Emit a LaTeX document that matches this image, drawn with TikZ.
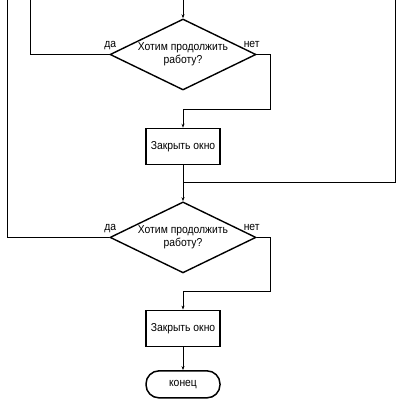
\documentclass[tikz,border=0pt]{standalone}
\usepackage{fontspec}
\setmainfont[FakeStretch=0.9]{Liberation Sans}
\usepackage{tikz}
\usetikzlibrary{arrows.meta,positioning,calc,shapes.geometric}
\tikzset{
  flowline/.style={draw=black, line width=0.8pt},
  flowarrow/.style={flowline, -{Stealth[length=4pt,width=3pt]}},
  decision/.style={diamond, draw=black, line width=1.4pt, aspect=2.05,
    minimum width=146pt, minimum height=71pt, inner sep=0pt, align=center,
    font=\fontsize{11.5}{13}\selectfont},
  process/.style={rectangle, draw=black, line width=1.5pt, minimum width=74pt,
    minimum height=36pt, inner sep=2pt, font=\fontsize{11.5}{13}\selectfont},
  terminal/.style={rectangle, rounded corners=13pt, draw=black, line width=1.5pt,
    minimum width=74pt, minimum height=27pt, inner sep=2pt, font=\fontsize{11.5}{13}\selectfont},
  branchnote/.style={font=\fontsize{11.5}{13}\selectfont, inner sep=0pt, anchor=base}
}
\begin{document}
\begin{tikzpicture}[x=1pt, y=-1pt]
  \useasboundingbox (0,0) rectangle (412,404);
  \node[decision] (ask1) at (183,54.5) {Хотим продолжить\\работу?};
  \node[process, below=37pt of ask1] (close1) {Закрыть окно};
  \node[decision, below=36pt of close1] (ask2) {Хотим продолжить\\работу?};
  \node[process, below=36pt of ask2] (close2) {Закрыть окно};
  \node[terminal, below=23pt of close2] (stop) {конец};

  % free ends at the top edge
  \coordinate (in) at (183,0);
  \coordinate (back1) at (30,0);
  \coordinate (back2) at (7,0);
  \coordinate (loop) at (395,0);
  \coordinate (mid1) at ($(ask1.south)!.5!(close1.north)$);
  \coordinate (mid2) at ($(ask2.south)!.5!(close2.north)$);
  \coordinate (join) at ($(close1.south)!.48!(ask2.north)$);

  \draw[flowarrow] (in) -- (ask1);
  \draw[flowline] (ask1.west) node[branchnote, xshift=1pt, yshift=7pt] {да} -| (back1);
  \draw[flowarrow] (ask1.east) node[branchnote, xshift=-5pt, yshift=7pt] {нет}
    -- ++(14,0) |- (mid1) -- (close1);
  \draw[flowline] (close1) -- (join);
  \draw[flowline] (loop) |- (join);
  \draw[flowarrow] (join) -- (ask2);
  \draw[flowline] (ask2.west) node[branchnote, xshift=1pt, yshift=7pt] {да} -| (back2);
  \draw[flowarrow] (ask2.east) node[branchnote, xshift=-5pt, yshift=7pt] {нет}
    -- ++(14,0) |- (mid2) -- (close2);
  \draw[flowarrow] (close2) -- (stop);
\end{tikzpicture}
\end{document}
